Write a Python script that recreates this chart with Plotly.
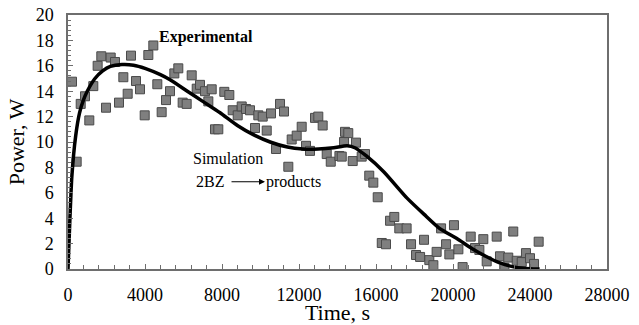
import plotly.graph_objects as go

# Experimental data (time s, power W)
exp_time = [208, 450, 660, 883, 1107, 1315, 1540, 1730, 1974, 2218, 2442, 2650, 2875, 3100, 3273,
            3533, 3740, 3984, 4173, 4432, 4640, 4866, 5091, 5299, 5524, 5730, 5957, 6165, 6426,
            6686, 6857, 7117, 7290, 7465, 7636, 7808, 8120, 8380, 8556, 8816, 9024, 9247, 9455,
            9715, 9887, 10115, 10323, 10546, 10806, 11014, 11221, 11445, 11620, 11880, 12140,
            12364, 12572, 12832, 13003, 13230, 13440, 13650, 14100, 14220, 14340, 14390, 14560,
            14790, 14960, 15257, 15430, 15650, 15860, 16090, 16300, 16520, 16730, 16950, 17210,
            17590, 17820, 18080, 18290, 18495, 18770, 18980, 19150, 19380, 19640, 19810, 20050,
            20280, 20500, 20920, 21145, 21370, 21575, 21750, 22270, 22440, 22670, 22870, 23130,
            23310, 23570, 23790, 24000, 24210, 24450]
exp_power = [14.75, 8.45, 13.0, 13.6, 11.7, 14.4, 16.0, 16.75, 12.7, 16.65, 16.3, 13.1, 15.1, 13.8, 16.8,
             14.8, 14.15, 12.1, 16.85, 17.6, 14.55, 12.35, 13.3, 14.0, 15.4, 15.8, 13.1, 13.0, 15.25,
             14.2, 14.5, 14.0, 13.2, 14.15, 11.0, 11.0, 13.95, 13.7, 12.5, 12.1, 12.8, 12.6, 12.5,
             11.1, 12.1, 12.0, 10.9, 12.25, 9.45, 13.0, 12.4, 8.05, 10.2, 10.5, 11.2,
             9.7, 9.3, 11.9, 12.0, 11.3, 9.05, 8.45, 8.9, 8.85, 10.0, 10.8, 10.7,
             8.5, 9.95, 8.85, 9.05, 7.35, 6.8, 5.65, 2.05, 1.95, 3.8, 4.1, 3.2,
             3.2, 1.95, 1.1, 0.95, 2.3, 0.7, 0.3, 1.35, 3.2, 1.95, 1.15, 3.45,
             1.55, 0.15, 2.55, 1.65, 1.5, 2.35, 0.6, 2.55, 1.0, 0.1, 0.9, 2.95,
             0.65, 0.55, 1.25, 0.85, 0.4, 2.15]

# Simulation curve (time s, power W)
sim_time = [0, 100, 200, 400, 600, 800, 1000, 1400, 1800, 2200, 2800, 3400, 4000, 4800, 5300,
            6200, 7000, 7900, 8800, 9600, 10500, 11400, 12200, 13000, 13800, 14500, 14900, 15500,
            16400, 17600, 18500, 19300, 20200, 21000, 21700, 22400, 23200, 24000, 24500]
sim_power = [0, 4.0, 7.3, 10.5, 12.3, 13.3, 14.0, 15.0, 15.6, 15.95, 16.1, 16.05, 15.8, 15.3, 14.9,
             14.0, 13.2, 12.3, 11.3, 10.6, 10.0, 9.6, 9.45, 9.45, 9.55, 9.7, 9.55, 8.9,
             7.66, 5.6, 4.3, 3.2, 2.4, 1.6, 1.0, 0.5, 0.15, 0.02, 0.0]

x_ticks = [0, 4000, 8000, 12000, 16000, 20000, 24000, 28000]
y_ticks = [0, 2, 4, 6, 8, 10, 12, 14, 16, 18, 20]

FONT = "Liberation Serif, Times New Roman, serif"

fig = go.Figure()
fig.add_trace(go.Scatter(
    x=exp_time, y=exp_power, mode="markers", name="Experimental",
    marker=dict(symbol="square", size=9, color="#7f7f7f", line=dict(color="#4a4a4a", width=1)),
))
fig.add_trace(go.Scatter(
    x=sim_time, y=sim_power, mode="lines", name="Simulation",
    line=dict(color="black", width=3.5, shape="spline", smoothing=0.6),
))

axis_common = dict(
    showgrid=False, zeroline=False, showline=True, linecolor="#6e6e6e", linewidth=1.5,
    mirror=True, ticks="inside", ticklen=5, tickcolor="#6e6e6e", tickwidth=1,
    tickfont=dict(family=FONT, size=18, color="black"), automargin=False,
)

fig.update_xaxes(
    range=[0, 28000], tickvals=x_ticks, ticktext=[str(v) for v in x_ticks],
    minor=dict(dtick=800, ticks="inside", ticklen=4, tickcolor="#6e6e6e"),
    ticklabelstandoff=9,
    title=dict(text="Time, s", font=dict(family=FONT, size=22, color="black"), standoff=0),
    **axis_common,
)
fig.update_yaxes(
    range=[0, 20], tickvals=y_ticks, ticktext=[str(v) for v in y_ticks],
    minor=dict(dtick=0.4, ticks="inside", ticklen=3, tickcolor="#6e6e6e"),
    ticklabelstandoff=9,
    title=dict(text="Power, W", font=dict(family=FONT, size=22, color="black"), standoff=5),
    **axis_common,
)

anno_font = dict(family=FONT, size=16, color="black")
fig.add_annotation(x=7170, y=18.3, text="<b>Experimental</b>", showarrow=False, font=anno_font)
fig.add_annotation(x=8312, y=8.71, text="Simulation", showarrow=False, font=anno_font)
fig.add_annotation(x=7377, y=6.87, text="2BZ", showarrow=False, font=anno_font)
fig.add_annotation(x=11715, y=6.87, text="products", showarrow=False, font=anno_font)
fig.add_annotation(x=10234, y=6.87, ax=8416, ay=6.87, axref="x", ayref="y", text="",
                   showarrow=True, arrowhead=2, arrowsize=1, arrowwidth=1.2, arrowcolor="black")

fig.update_layout(
    width=639, height=325, autosize=False,
    margin=dict(l=68, r=32, t=15, b=56),
    plot_bgcolor="white", paper_bgcolor="white",
    showlegend=False,
)

fig.write_html("out.html")
